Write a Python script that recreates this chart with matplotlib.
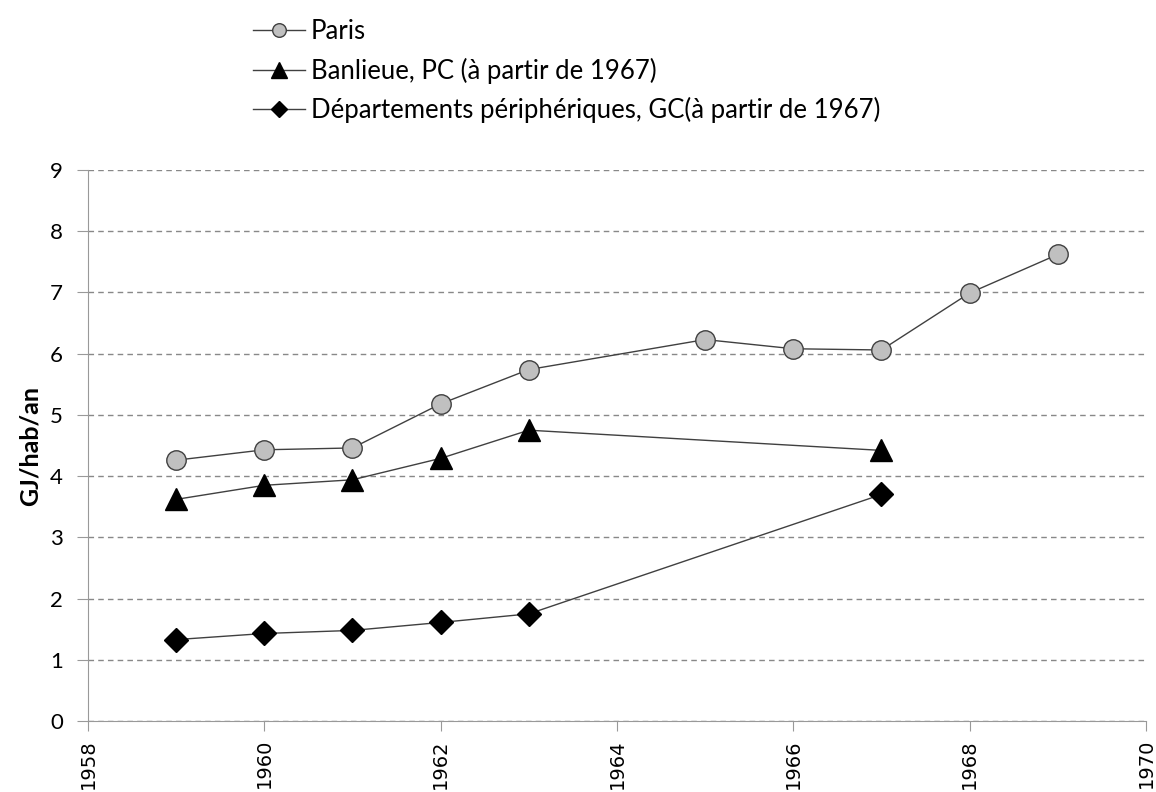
import matplotlib.pyplot as plt

years_paris = [1959, 1960, 1961, 1962, 1963, 1965, 1966, 1967, 1968, 1969]
paris = [4.26, 4.43, 4.46, 5.18, 5.74, 6.23, 6.08, 6.06, 6.99, 7.62]

years_banlieue = [1959, 1960, 1961, 1962, 1963, 1967]
banlieue = [3.62, 3.85, 3.94, 4.29, 4.75, 4.42]

years_dep = [1959, 1960, 1961, 1962, 1963, 1967]
departements = [1.33, 1.43, 1.48, 1.61, 1.75, 3.70]

x_ticks = [1958, 1960, 1962, 1964, 1966, 1968, 1970]
y_ticks = list(range(0, 10))

plt.rcParams['font.family'] = ['Lato', 'DejaVu Sans']

fig = plt.figure(figsize=(11.56, 7.92), dpi=100)
ax = fig.add_axes([0.0761, 0.0896, 0.9152, 0.6958])

ax.plot(years_paris, paris, color='#404040', lw=1, marker='o', ms=14,
        mfc='#c0c0c0', mec='#404040', mew=1, label='Paris')
ax.plot(years_banlieue, banlieue, color='#404040', lw=1, marker='^', ms=16,
        mfc='black', mec='black', label='Banlieue, PC (à partir de 1967)')
ax.plot(years_dep, departements, color='#404040', lw=1, marker='D', ms=12,
        mfc='black', mec='black',
        label='Départements périphériques, GC(à partir de 1967)')

ax.set_xlim(1958, 1970)
ax.set_ylim(0, 9)
ax.set_xticks(x_ticks)
ax.set_xticklabels([str(t) for t in x_ticks], rotation=90,
                   family='DejaVu Sans', fontsize=14)
ax.set_yticks(y_ticks)
ax.tick_params(axis='y', labelsize=16, length=8, color='#999999', pad=10)
ax.tick_params(axis='x', length=7, color='#999999', pad=6)
ax.yaxis.grid(True, ls=(0, (4, 3)), color='#888888', lw=1)
ax.set_axisbelow(True)
for s in ['top', 'right']:
    ax.spines[s].set_visible(False)
for s in ['left', 'bottom']:
    ax.spines[s].set_color('#999999')
ax.set_ylabel('GJ/hab/an', fontsize=18, fontweight='bold', labelpad=6)

fig.legend(loc='upper left', bbox_to_anchor=(0.2054, 0.995), frameon=False,
           fontsize=18.5, markerscale=0.7, handlelength=2.02, borderpad=0.1,
           handletextpad=0.24, labelspacing=0.52)

fig.savefig('out.png', dpi=100)
